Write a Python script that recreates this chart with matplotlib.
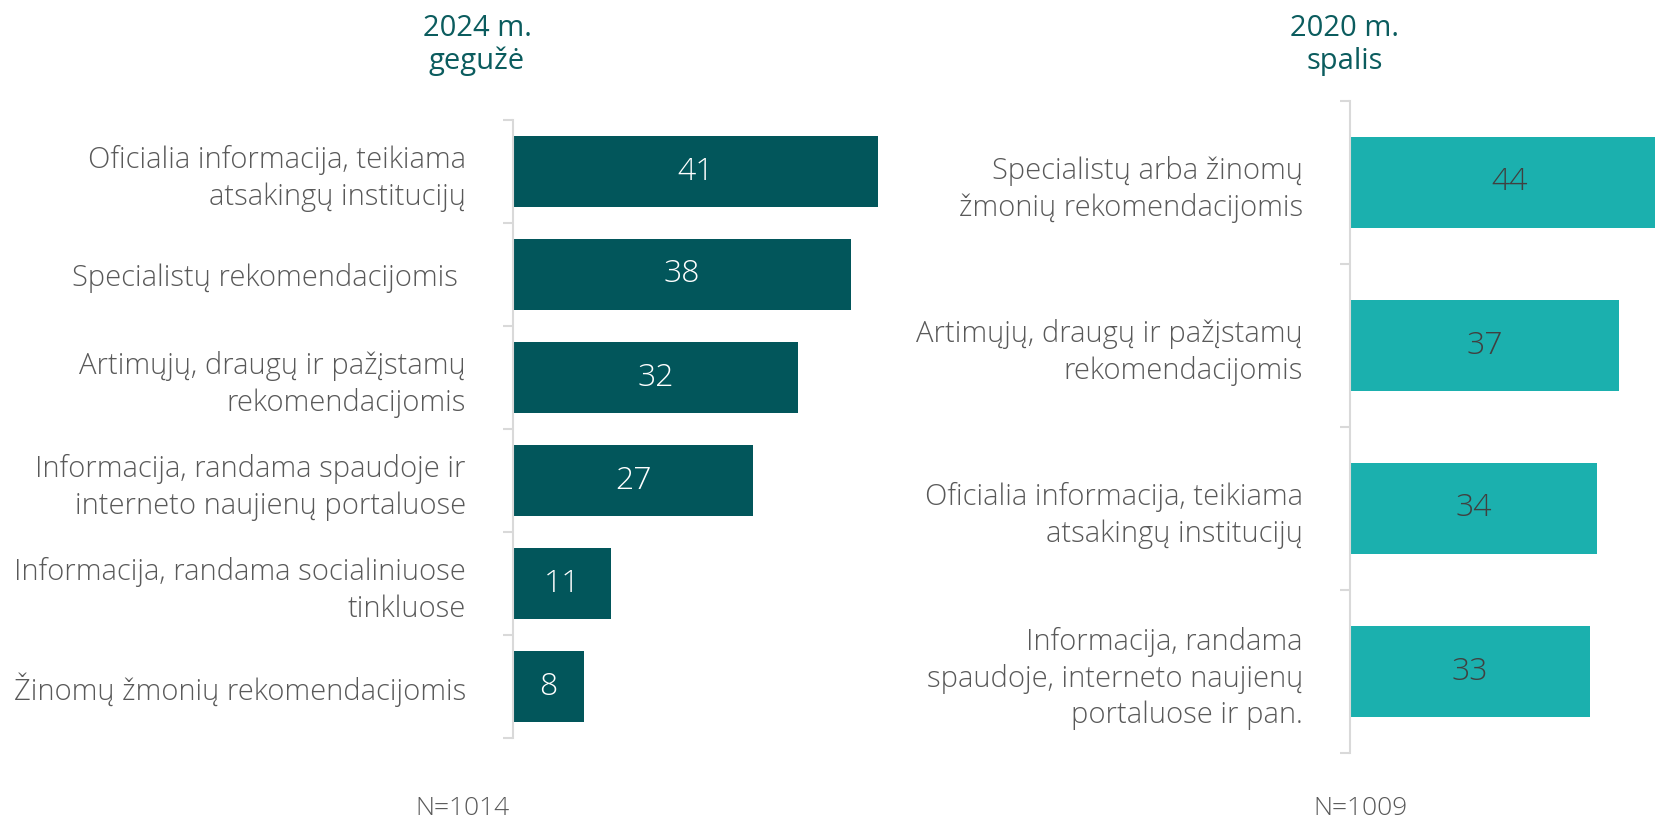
import matplotlib.pyplot as plt

# Duomenys
labels_2024 = [
    "Oficialia informacija, teikiama\natsakingų institucijų",
    "Specialistų rekomendacijomis ",
    "Artimųjų, draugų ir pažįstamų\nrekomendacijomis",
    "Informacija, randama spaudoje ir\ninterneto naujienų portaluose",
    "Informacija, randama socialiniuose\ntinkluose",
    "Žinomų žmonių rekomendacijomis",
]
values_2024 = [41, 38, 32, 27, 11, 8]

labels_2020 = [
    "Specialistų arba žinomų\nžmonių rekomendacijomis",
    "Artimųjų, draugų ir pažįstamų\nrekomendacijomis",
    "Oficialia informacija, teikiama\natsakingų institucijų",
    "Informacija, randama\nspaudoje, interneto naujienų\nportaluose ir pan.",
]
values_2020 = [44, 37, 34, 33]

title_2024 = "2024 m.\ngegužė"
title_2020 = "2020 m.\nspalis"
n_2024 = "N=1014"
n_2020 = "N=1009"

# Spalvos
dark_teal = "#02565B"
light_teal = "#1BB0AE"
title_color = "#0B5C5E"
label_color = "#595959"
axis_color = "#D9D9D9"

plt.rcParams['font.family'] = ['Open Sans', 'DejaVu Sans']
plt.rcParams['font.weight'] = 'light'

W, H = 1655, 822
fig = plt.figure(figsize=(W / 100, H / 100), dpi=100)


def make_axes(left, right, top, bottom):
    return fig.add_axes([left / W, 1 - bottom / H, (right - left) / W, (bottom - top) / H])


def draw_panel(ax, labels, values, color, text_color, xmax, bar_h):
    n = len(values)
    pos = list(range(n))
    ax.barh(pos, values, height=bar_h, color=color)
    ax.set_xlim(0, xmax)
    ax.set_ylim(n - 0.5, -0.5)
    for p, v in zip(pos, values):
        ax.text(v / 2, p, str(v), ha='center', va='center', color=text_color,
                fontsize=23, fontweight='light')
    ax.set_yticks(pos)
    ax.set_yticklabels(labels, fontsize=21, color=label_color, linespacing=1.3)
    ax.set_yticks([p - 0.5 for p in range(n + 1)], minor=True)
    ax.tick_params(axis='y', which='major', length=0, pad=34)
    ax.tick_params(axis='y', which='minor', length=7, width=1.5, color=axis_color)
    ax.set_xticks([])
    for s in ['top', 'right', 'bottom']:
        ax.spines[s].set_visible(False)
    ax.spines['left'].set_color(axis_color)
    ax.spines['left'].set_linewidth(1.5)


ax1 = make_axes(513, 963, 120, 738)
draw_panel(ax1, labels_2024, values_2024, dark_teal, "white", 450 / 8.9, 0.69)

ax2 = make_axes(1350, 1655, 101, 753)
draw_panel(ax2, labels_2020, values_2020, light_teal, "#404040", 305 / 7.27, 0.56)

fig.text(477 / W, 1 - 45 / H, title_2024, ha='center', va='center', color=title_color,
         fontsize=21, fontweight='normal', linespacing=1.15)
fig.text(1345 / W, 1 - 45 / H, title_2020, ha='center', va='center', color=title_color,
         fontsize=21, fontweight='normal', linespacing=1.15)
fig.text(462 / W, 1 - 808 / H, n_2024, ha='center', va='center', color=label_color, fontsize=19)
fig.text(1361 / W, 1 - 808 / H, n_2020, ha='center', va='center', color=label_color, fontsize=19)

plt.savefig("out.png", dpi=100)
